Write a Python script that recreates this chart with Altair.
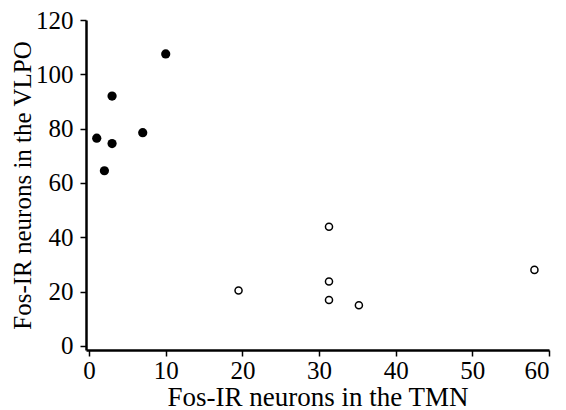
import altair as alt
import pandas as pd

# Filled circles (group 1)
filled_tmn = [1, 2, 3, 3, 7, 10]
filled_vlpo = [76.5, 64.5, 92, 74.5, 78.5, 107.5]
# Open circles (group 2)
open_tmn = [19.5, 31.3, 31.3, 31.3, 35.2, 58.1]
open_vlpo = [20.4, 43.9, 23.7, 16.9, 15.0, 28.0]

x_ticks = [0, 10, 20, 30, 40, 50, 60]
y_ticks = [0, 20, 40, 60, 80, 100, 120]

df_f = pd.DataFrame({"tmn": filled_tmn, "vlpo": filled_vlpo})
df_o = pd.DataFrame({"tmn": open_tmn, "vlpo": open_vlpo})

FONT = "Liberation Serif"

xenc = alt.X("tmn:Q", scale=alt.Scale(domain=[-0.4, 60], nice=False, zero=False),
             axis=alt.Axis(values=x_ticks, title="Fos-IR neurons in the TMN", grid=False,
                           tickSize=6, labelPadding=2, titlePadding=1, titleFontSize=27))
yenc = alt.Y("vlpo:Q", scale=alt.Scale(domain=[-1.5, 120], nice=False, zero=False),
             axis=alt.Axis(values=y_ticks, title="Fos-IR neurons in the VLPO", grid=False,
                           tickSize=6, labelPadding=7, titlePadding=0, titleFontSize=25))

filled = alt.Chart(df_f).mark_point(filled=True, color="black", size=85, opacity=1).encode(x=xenc, y=yenc)
opened = alt.Chart(df_o).mark_point(filled=False, color="black", size=50, strokeWidth=1.5, opacity=1).encode(x=xenc, y=yenc)

chart = (filled + opened).properties(
    width=463, height=330,
    autosize=alt.AutoSizeParams(type="none"),
    padding={"left": 78, "top": 12, "right": 8, "bottom": 60},
).configure_view(stroke=None).configure_axis(
    domainColor="black", domainWidth=2.5, tickColor="black", tickWidth=1.5,
    labelFont=FONT, titleFont=FONT, labelFontSize=25,
    labelColor="black", titleColor="black", titleFontWeight="normal",
)

chart.save("out.html", embed_options={"renderer": "svg", "actions": False})
